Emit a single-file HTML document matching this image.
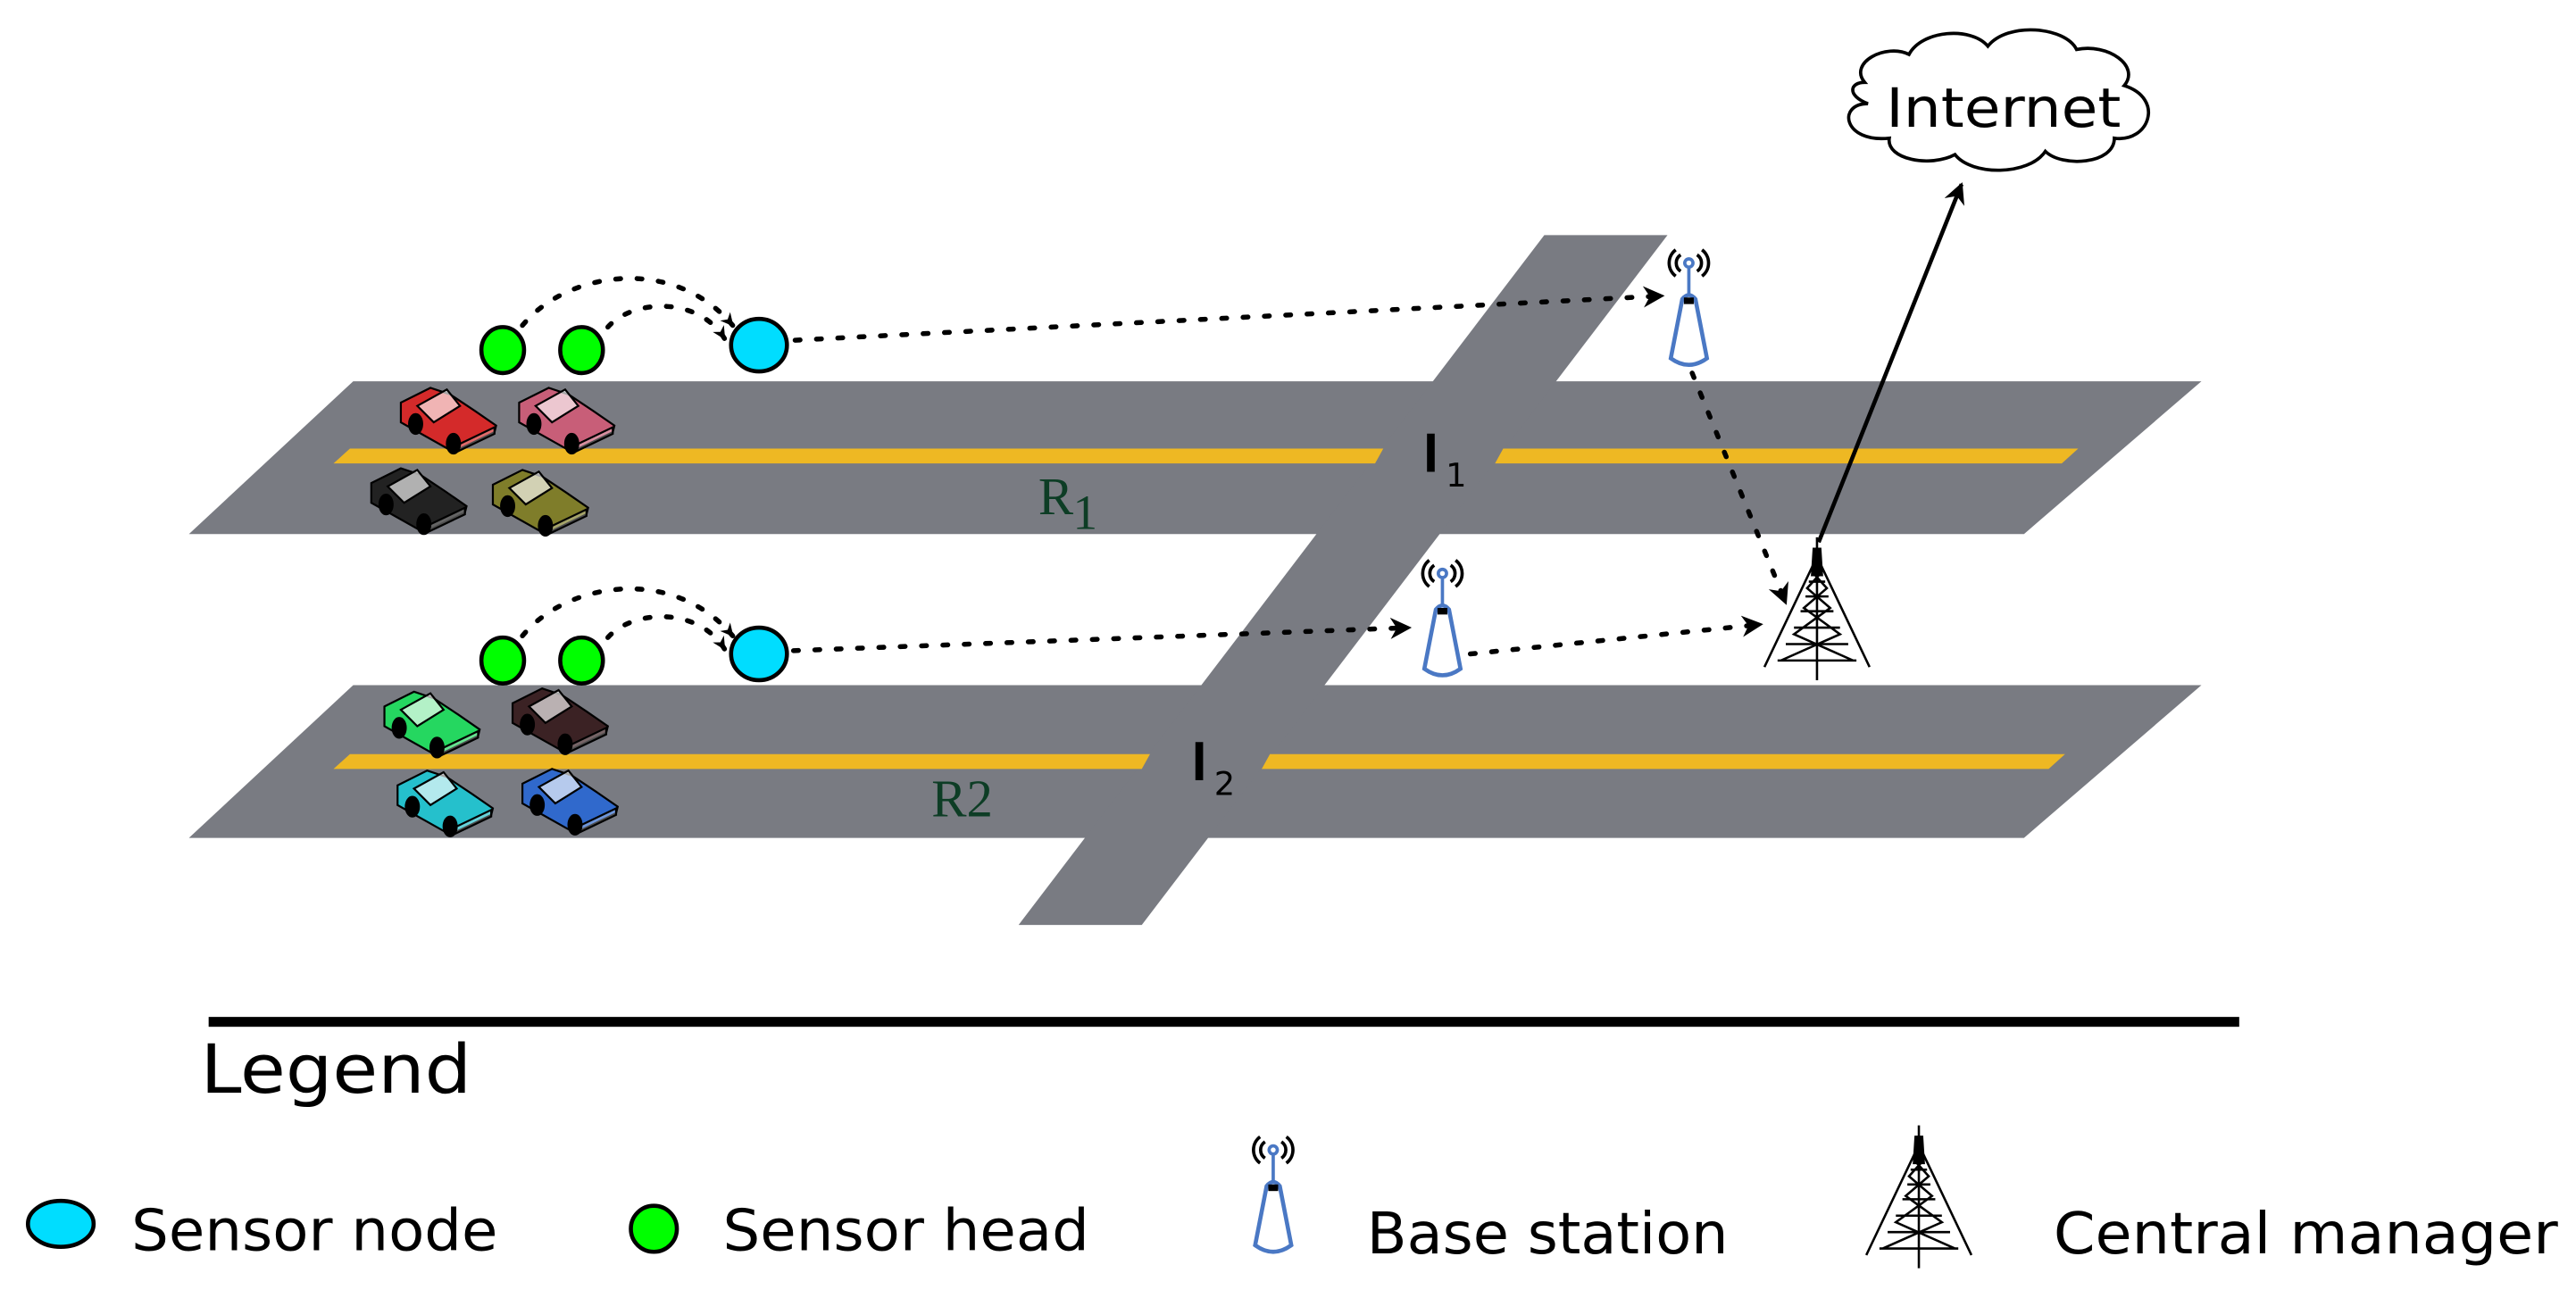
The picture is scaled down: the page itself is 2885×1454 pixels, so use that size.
<!DOCTYPE html>
<html><head><meta charset="utf-8"><style>
html,body{margin:0;padding:0;background:#fff}
svg{display:block}
text{font-family:"DejaVu Sans","Liberation Sans",sans-serif}
</style></head><body>
<svg width="2885" height="1454" viewBox="0 0 1568 790" xmlns="http://www.w3.org/2000/svg">
<defs>
<marker id="ah" viewBox="0 0 10 10" refX="9" refY="5" markerWidth="8" markerHeight="8" orient="auto" markerUnits="userSpaceOnUse">
<path d="M0,0 L10,5 L0,10 L3,5 Z" fill="#000"/></marker>
<marker id="ah2" viewBox="0 0 10 10" refX="9" refY="5" markerWidth="13" markerHeight="13" orient="auto" markerUnits="userSpaceOnUse">
<path d="M0,0 L10,5 L0,10 L3,5 Z" fill="#000"/></marker>
<g id="bs">
<path d="M-8,-24 a10,10 0 0 0 0,16 M8,-24 a10,10 0 0 1 0,16 M-5,-21 a6,6 0 0 0 0,10 M5,-21 a6,6 0 0 1 0,10" fill="none" stroke="#000" stroke-width="2"/>
<circle cx="0" cy="-16" r="2.5" fill="none" stroke="#4a78c4" stroke-width="2"/>
<line x1="0" y1="-13" x2="0" y2="4" stroke="#4a78c4" stroke-width="2"/>
<path d="M-4,6 Q0,1 4,6 L11,42 Q0,50 -11,42 Z" fill="#fff" stroke="#4a78c4" stroke-width="2.5"/>
<rect x="-3" y="5" width="6" height="4" fill="#000"/>
</g>
<g id="tower" fill="none" stroke="#000" stroke-width="1.4">
<line x1="0" y1="-45" x2="0" y2="42"/>
<path d="M-1.5,-30 L-32,34 M1.5,-30 L32,34"/>
<path d="M-3,-24 L6,-14 L-8,-2 L14,14 L-22,30 M3,-24 L-6,-14 L8,-2 L-14,14 L22,30 M-5,-18 L5,-18 M-7,-9 L7,-9 M-10,0 L10,0 M-14,10 L14,10 M-19,20 L19,20 M-24,30 L24,30"/>
<path d="M-2,-38 L2,-38 L3,-22 L-3,-22Z" fill="#000"/>
</g>
<g id="car" stroke="#000" stroke-width="1.2">
<path d="M0,12 L18,3 L30,7 L45,17 L58,26 L57,30 L32,42 L0,24 Z"/>
<path d="M10,14 L28,4 L36,14 L20,24 Z" fill="#fff" fill-opacity="0.65"/>
<path d="M34,38 L57,27 L57,31 L34,42Z" fill="#fff" fill-opacity="0.3"/>
<ellipse cx="9" cy="25" rx="4" ry="6" fill="#000"/>
<ellipse cx="32" cy="37" rx="4" ry="6" fill="#000"/>
</g>
</defs>
<polygon points="115,325 215,232 1340,232 1232,325" fill="#797b82"/>
<polygon points="115,510 215,417 1340,417 1232,510" fill="#797b82"/>
<polygon points="940,143 1015,143 695,563 620,563" fill="#797b82"/>
<polygon points="203,282 213,273 842,273 837,282" fill="#eeb823"/>
<polygon points="910,282 915,273 1265,273 1255,282" fill="#eeb823"/>
<polygon points="203,468 213,459 700,459 695,468" fill="#eeb823"/>
<polygon points="768,468 773,459 1257,459 1247,468" fill="#eeb823"/>
<text x="864" y="287" font-size="34" style="font-family:'Liberation Sans',sans-serif" textLength="14" lengthAdjust="spacingAndGlyphs">I</text><text x="880" y="296" font-size="20">1</text>
<text x="723" y="475" font-size="34" style="font-family:'Liberation Sans',sans-serif" textLength="14" lengthAdjust="spacingAndGlyphs">I</text><text x="739" y="484" font-size="20">2</text>
<text x="632" y="313" font-size="32" fill="#0d3d25" style="font-family:'Liberation Serif',serif">R</text><text x="653" y="322" font-size="30" fill="#0d3d25" style="font-family:'Liberation Serif',serif">1</text>
<text x="567" y="497" font-size="32" fill="#0d3d25" style="font-family:'Liberation Serif',serif">R2</text>
<use href="#car" x="244" y="233" fill="#d42a2a"/>
<use href="#car" x="316" y="233" fill="#c85e78"/>
<use href="#car" x="226" y="282" fill="#222"/>
<use href="#car" x="300" y="283" fill="#7f7d2a"/>
<use href="#car" x="234" y="418" fill="#25d760"/>
<use href="#car" x="312" y="416" fill="#3b2224"/>
<use href="#car" x="242" y="466" fill="#25c0cc"/>
<use href="#car" x="318" y="465" fill="#3069cc"/>
<g stroke="#000" stroke-width="2.5">
<ellipse cx="306" cy="213" rx="13" ry="14" fill="#00ff00"/>
<ellipse cx="354" cy="213" rx="13" ry="14" fill="#00ff00"/>
<ellipse cx="462" cy="210" rx="17" ry="16" fill="#00ddff"/>
<ellipse cx="306" cy="402" rx="13" ry="14" fill="#00ff00"/>
<ellipse cx="354" cy="402" rx="13" ry="14" fill="#00ff00"/>
<ellipse cx="462" cy="398" rx="17" ry="16" fill="#00ddff"/>
</g>
<g fill="none" stroke="#000" stroke-width="3" stroke-dasharray="3 10" stroke-linecap="round">
<path d="M318,198 C345,165 410,155 446,198" marker-end="url(#ah)"/>
<path d="M370,199 C385,182 425,180 441,206" marker-end="url(#ah)"/>
<path d="M318,387 C345,354 410,344 446,387" marker-end="url(#ah)"/>
<path d="M370,388 C385,371 425,369 441,395" marker-end="url(#ah)"/>
<path d="M484,207 L1012,180" marker-end="url(#ah2)"/>
<path d="M483,396 L858,382" marker-end="url(#ah2)"/>
<path d="M895,398 L1072,380" marker-end="url(#ah2)"/>
<path d="M1030,227 L1087,367" marker-end="url(#ah2)"/>
</g>
<use href="#bs" x="1028" y="176"/>
<use href="#bs" x="878" y="365"/>
<use href="#tower" x="1106" y="372"/>
<line x1="1107" y1="330" x2="1194" y2="112" stroke="#000" stroke-width="2.5" marker-end="url(#ah2)"/>
<path d="M1135,50 C1125,38 1148,26 1162,33 C1170,18 1200,16 1210,28 C1222,13 1257,16 1264,30 C1283,26 1303,40 1293,52 C1318,60 1308,87 1287,84 C1287,100 1255,102 1245,92 C1235,107 1200,107 1190,94 C1175,102 1148,97 1150,84 C1122,87 1118,63 1137,63 C1124,58 1126,50 1135,50 Z" fill="#fff" stroke="#000" stroke-width="2"/>
<text x="1148" y="77" font-size="33" textLength="143" lengthAdjust="spacingAndGlyphs">Internet</text>
<rect x="127" y="619" width="1236" height="6" fill="#000"/>
<text x="122" y="665" font-size="41" textLength="165" lengthAdjust="spacingAndGlyphs">Legend</text>
<ellipse cx="37" cy="745" rx="20" ry="14" fill="#00ddff" stroke="#000" stroke-width="2.5"/>
<text x="80" y="761" font-size="35" textLength="223" lengthAdjust="spacingAndGlyphs">Sensor node</text>
<ellipse cx="398" cy="748" rx="14" ry="14" fill="#00ff00" stroke="#000" stroke-width="2.5"/>
<text x="440" y="761" font-size="35" textLength="223" lengthAdjust="spacingAndGlyphs">Sensor head</text>
<use href="#bs" x="775" y="716"/>
<text x="832" y="763" font-size="35" textLength="220" lengthAdjust="spacingAndGlyphs">Base station</text>
<use href="#tower" x="1168" y="730"/>
<text x="1250" y="763" font-size="35" textLength="307" lengthAdjust="spacingAndGlyphs">Central manager</text>
</svg>
</body></html>
